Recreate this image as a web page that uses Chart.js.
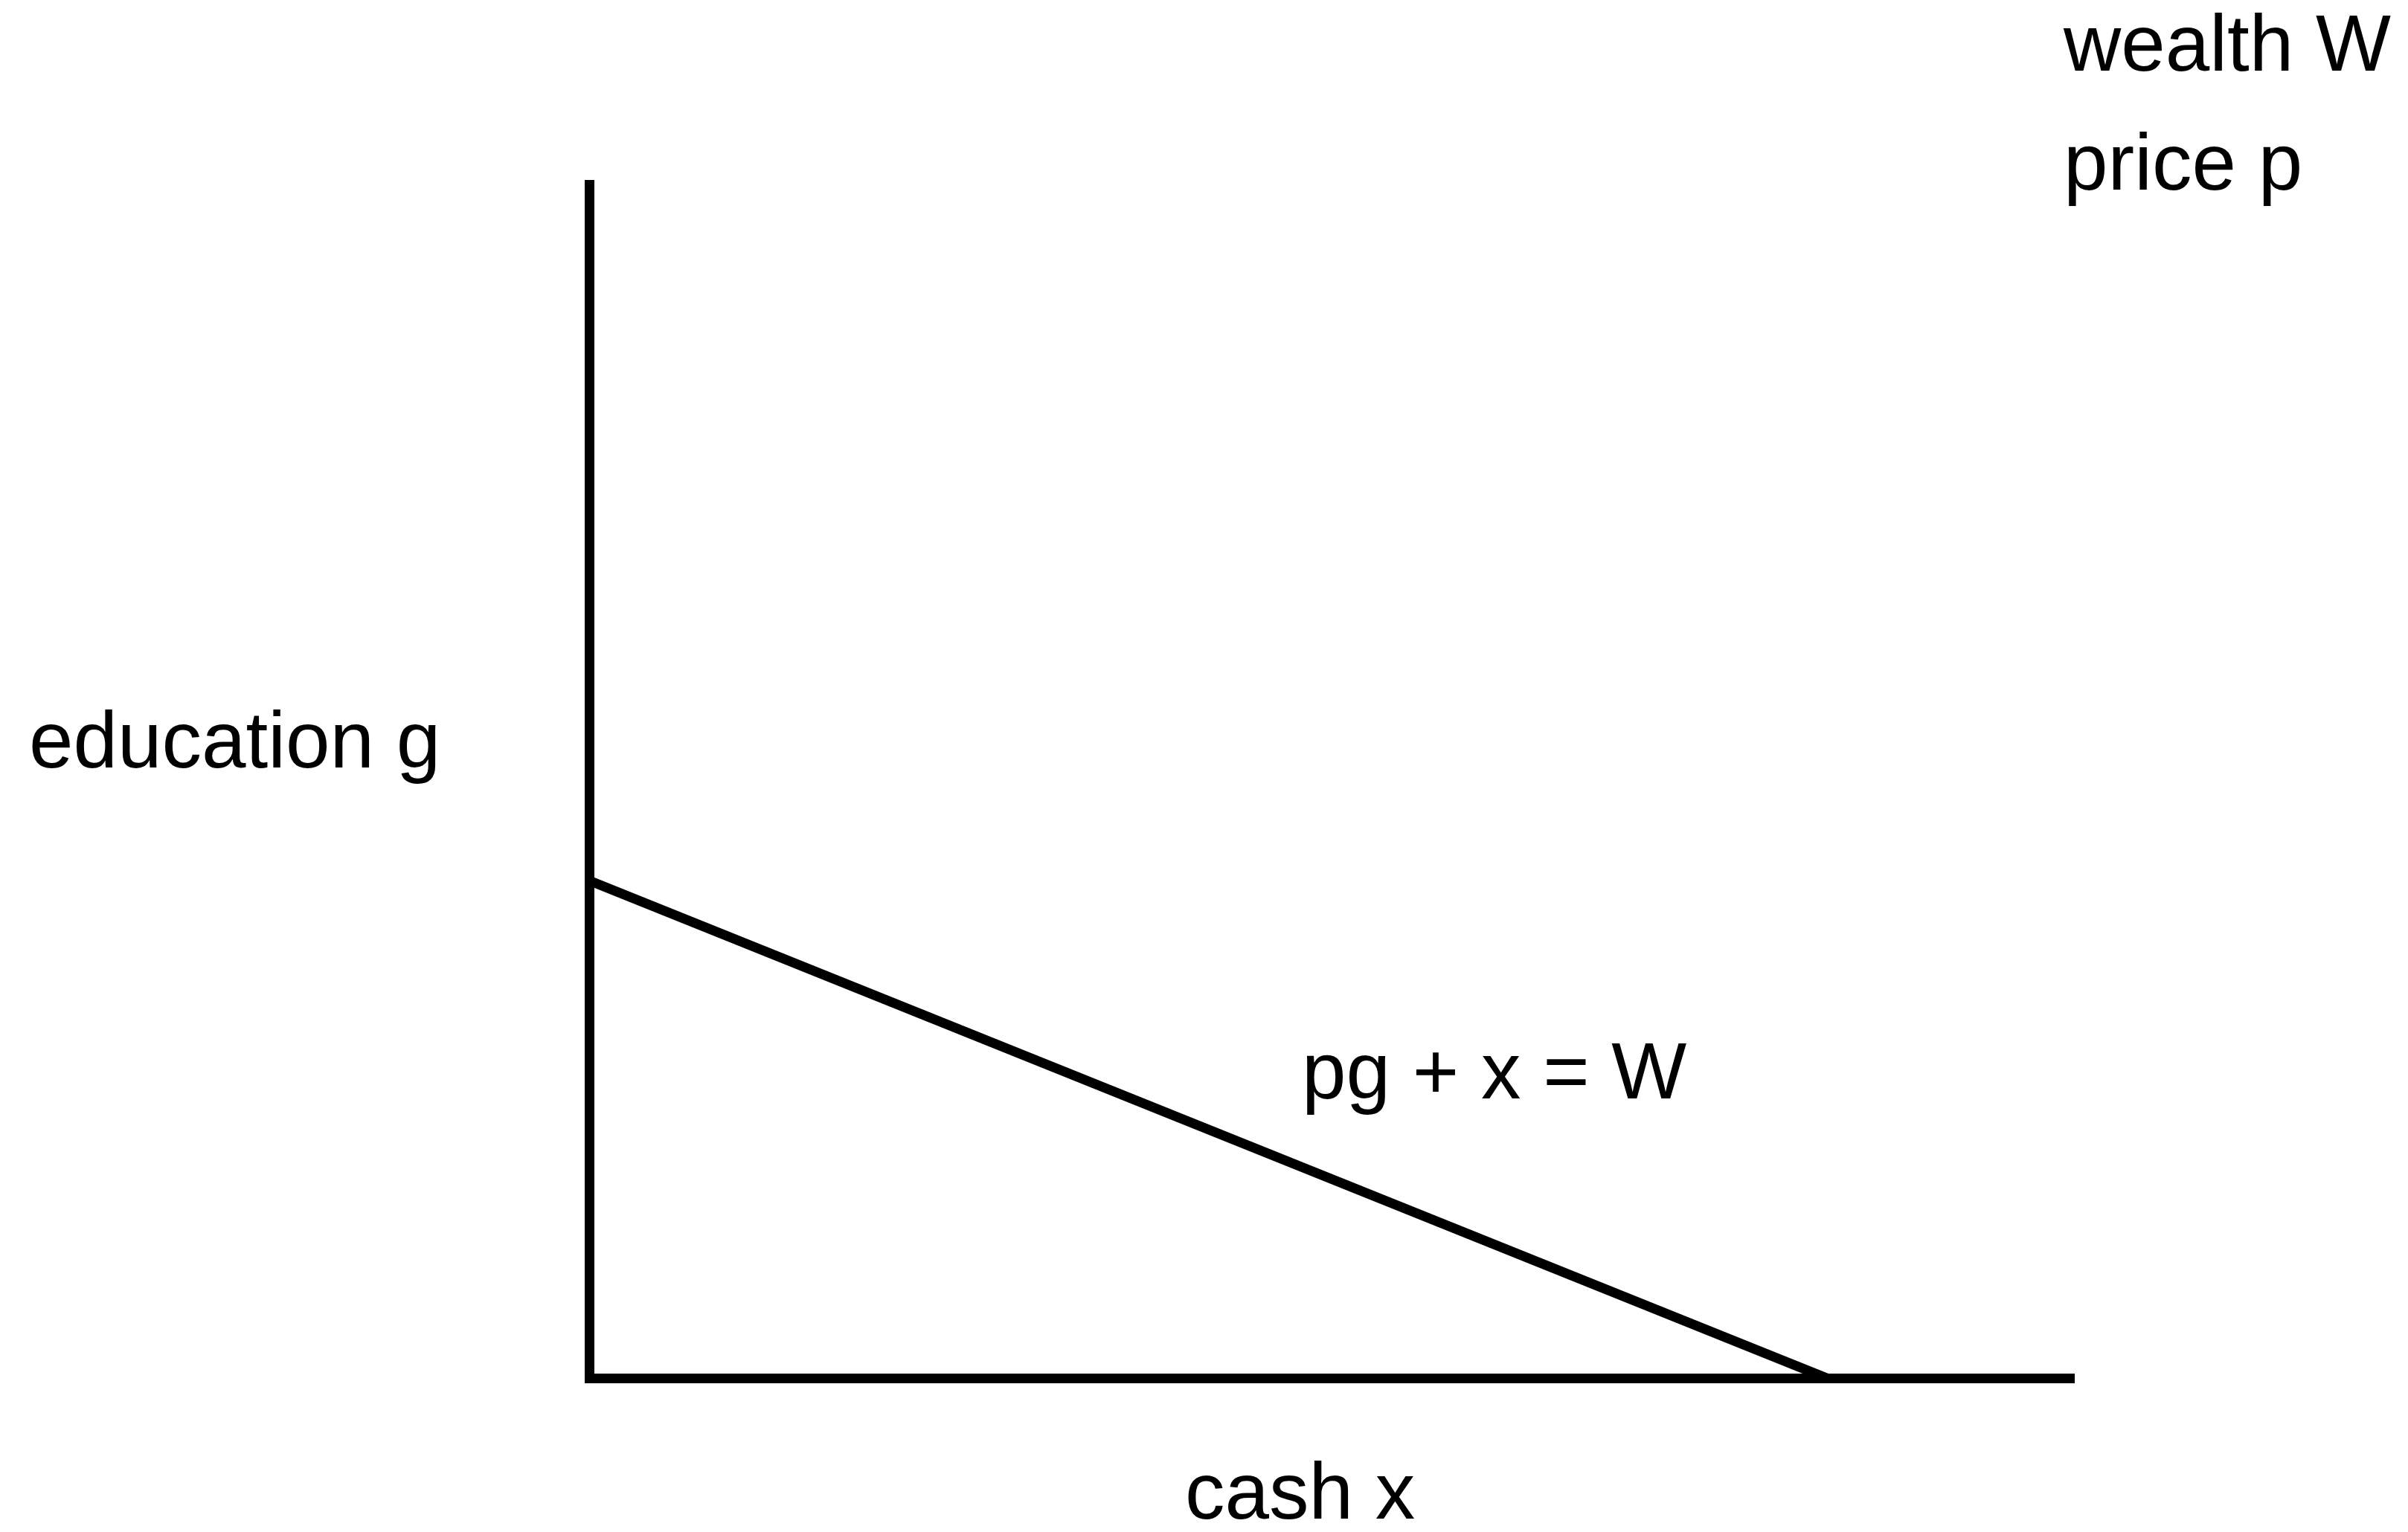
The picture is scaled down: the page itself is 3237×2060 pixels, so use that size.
<!DOCTYPE html>
<html>
<head>
<meta charset="utf-8">
<title>Budget line</title>
<script src="https://cdn.jsdelivr.net/npm/chart.js@4.4.1/dist/chart.umd.min.js"></script>
<style>
    html, body { margin: 0; padding: 0; background: #fff; }
    #wrap { width: 3237px; height: 2060px; position: relative; }
</style>
</head>
<body>
<div id="wrap"><canvas id="chart"></canvas></div>
<script>
// ==================== DATA ====================
// budget line pg + x = W, from the g-intercept down to the x-intercept
const budgetX = [0, 8.34];
const budgetY = [4.17, 0];

// free-standing labels, placed in data units (left edge, baseline)
const labelTexts = ['wealth W', 'price p', 'education g', 'pg + x = W', 'cash x'];
const labelX = [9.93, 9.93, -3.776, 4.798, 4.012];
const labelY = [10.956, 9.959, 5.118, 2.346, -1.174];

const axisMin = 0;
const axisMax = 10;

// ==================== LABEL PLUGIN ====================
const textLabels = {
    id: 'textLabels',
    afterDraw(chart) {
        const { ctx, scales: { x, y } } = chart;
        ctx.save();
        ctx.fillStyle = '#000';
        ctx.font = '107px "Liberation Sans", Arial, sans-serif';
        ctx.textAlign = 'left';
        ctx.textBaseline = 'alphabetic';
        labelTexts.forEach((t, i) => {
            ctx.fillText(t, x.getPixelForValue(labelX[i]), y.getPixelForValue(labelY[i]));
        });
        ctx.restore();
    }
};

// ==================== CHART ====================
const axisOpts = {
    type: 'linear',
    min: axisMin,
    max: axisMax,
    grid: { display: false, drawTicks: false },
    ticks: { display: false },
    border: { display: true, color: '#000', width: 13 }
};

new Chart(document.getElementById('chart'), {
    type: 'scatter',
    data: {
        datasets: [{
            data: budgetX.map((v, i) => ({ x: v, y: budgetY[i] })),
            showLine: true,
            borderColor: '#000',
            borderWidth: 13,
            borderCapStyle: 'butt',
            pointRadius: 0,
            clip: false
        }]
    },
    options: {
        responsive: true,
        maintainAspectRatio: false,
        animation: false,
        layout: { padding: { left: 792.5, top: 248.5, right: 449, bottom: 206.5 } },
        plugins: { legend: { display: false }, tooltip: { enabled: false } },
        scales: {
            x: { ...axisOpts, position: 'bottom' },
            y: { ...axisOpts, position: 'left' }
        }
    },
    plugins: [textLabels]
});
</script>
</body>
</html>
